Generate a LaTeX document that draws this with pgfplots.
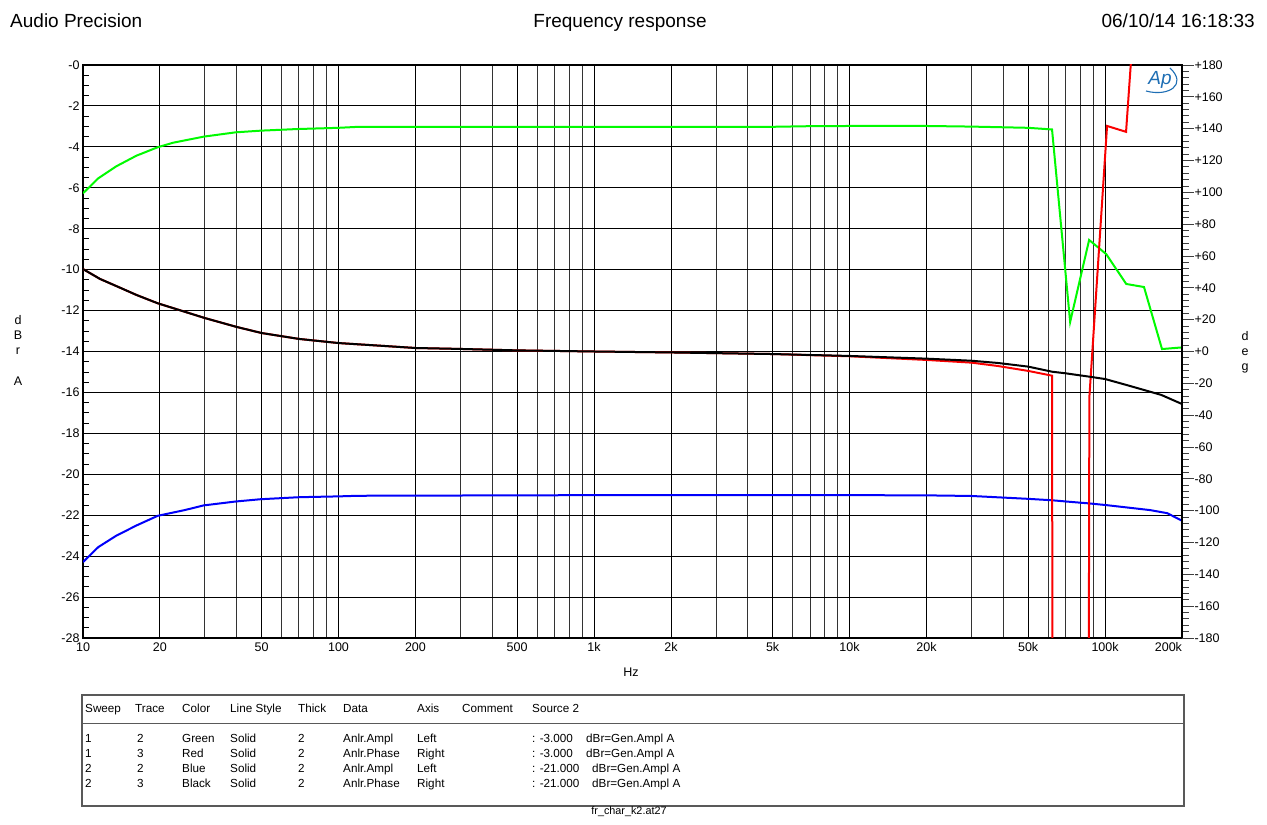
\documentclass[border=0pt]{standalone}
\usepackage{fontspec}
\setmainfont{Liberation Sans}
\usepackage{pgfplots}
\pgfplotsset{compat=1.18}
\definecolor{apgreen}{RGB}{0,250,0}
\definecolor{apred}{RGB}{250,0,0}
\definecolor{apblue}{RGB}{0,0,250}
\definecolor{aplogo}{RGB}{30,110,180}
\newcommand{\fTitle}{\fontsize{19}{22}\selectfont}
\newcommand{\fTick}{\fontsize{12.5}{14}\selectfont}
\newcommand{\fTab}{\fontsize{11.7}{13}\selectfont}
\newcommand{\fFoot}{\fontsize{10.8}{12}\selectfont}

\pgfplotstableread{
f dB
10 -6.27
11.47 -5.54
13.5 -4.95
16.2 -4.43
19.6 -4.02
22.5 -3.80
29.7 -3.50
39.6 -3.29
49.4 -3.21
68.8 -3.13
100 -3.07
120 -3.02
200 -3.02
500 -3.02
1000 -3.02
2000 -3.02
5000 -3.02
7000 -2.99
10000 -2.98
20000 -2.98
30000 -3.01
50000 -3.07
62000 -3.15
73000 -12.56
86600 -8.55
101000 -9.24
121000 -10.70
142000 -10.85
167000 -13.88
200000 -13.80
}\greentab

\pgfplotstableread{
f dB
10 -24.29
11.47 -23.56
13.5 -23.0
16.2 -22.50
19.6 -22.03
25 -21.75
29.7 -21.52
39.6 -21.33
49.4 -21.22
70 -21.12
100 -21.08
120 -21.05
1000 -21.02
5000 -21.02
10000 -21.02
20000 -21.03
30000 -21.06
50000 -21.20
62000 -21.27
72000 -21.34
86000 -21.42
100000 -21.50
150000 -21.75
175000 -21.90
200000 -22.27
}\bluetab

\pgfplotstableread{
f deg
10 51.8
11.65 45.6
14 40.0
16.2 35.5
19.6 30.3
30 21.0
40 15.4
50 11.6
70 7.9
100 5.3
150 3.5
200 2.2
300 1.6
500 0.7
1000 0.0
2000 -0.6
5000 -1.6
10000 -3.0
20000 -5.3
30000 -7.0
38000 -9.1
50000 -12.2
62000 -15.2
62500 -400
85800 -400
86800 -28.6
101800 141.7
120800 138.0
126000 180.0
135000 260.0
}\redtab

\pgfplotstableread{
f deg
10 51.8
11.65 45.6
14 40.0
16.2 35.5
19.6 30.3
30 21.0
40 15.4
50 11.6
70 7.9
100 5.3
150 3.5
200 2.2
300 1.6
500 0.7
1000 0.0
2000 -0.6
5000 -1.6
10000 -2.8
20000 -4.5
30000 -5.8
38000 -7.2
50000 -9.5
62000 -12.7
70000 -13.7
86600 -15.8
100000 -17.3
121000 -21.0
166000 -27.3
200000 -33.0
}\blacktab

\begin{document}
\begin{tikzpicture}[x=1pt,y=1pt]
\useasboundingbox (0,0) rectangle (1267,825);

% titles
\node[anchor=base west, inner sep=0pt, font=\fTitle] at (10,797.7) {Audio Precision};
\node[anchor=base, inner sep=0pt, font=\fTitle] at (620,797.7) {Frequency response};
\node[anchor=base east, inner sep=0pt, font=\fTitle] at (1255,797.7) {06/10/14 16:18:33};

\begin{axis}[
  at={(83pt,187pt)}, anchor=south west,
  scale only axis, width=1099pt, height=573pt,
  xmode=log, log basis x=10,
  xmin=10, xmax=200000, ymin=-28, ymax=0,
  xtick={10,20,50,100,200,500,1000,2000,5000,10000,20000,50000,100000,200000},
  xticklabels={10,20,50,100,200,500,1k,2k,5k,10k,20k,50k,100k,\makebox[0pt][r]{200k}},
  minor xtick={30,40,60,70,80,90,300,400,600,700,800,900,3000,4000,6000,7000,8000,9000,30000,40000,60000,70000,80000,90000},
  xmajorgrids, xminorgrids, ymajorgrids,
  major grid style={black, line width=0.9pt},
  minor grid style={black!80, line width=0.9pt},
  ytick={-28,-26,...,0},
  yticklabels={-28,-26,-24,-22,-20,-18,-16,-14,-12,-10,-8,-6,-4,-2,-0},
  minor y tick num=3,
  ytick pos=left,
  tick align=inside,
  major tick length=6pt, minor tick length=6pt,
  tick style={black, line width=0.9pt},
  xtick style={draw=none},
  minor x tick style={draw=none},
  axis line style={black, line width=1.3pt},
  tick label style={font=\fTick},
  xticklabel style={yshift=-1pt},
  /pgf/number format/assume math mode=true,
]
\addplot[apgreen, line width=2pt] table[x=f, y=dB] {\greentab};
\addplot[apblue, line width=2pt] table[x=f, y=dB] {\bluetab};
\end{axis}

\begin{axis}[
  at={(83pt,187pt)}, anchor=south west,
  scale only axis, width=1099pt, height=573pt,
  xmode=log, log basis x=10,
  xmin=10, xmax=200000, ymin=-180, ymax=180,
  axis x line=none, axis y line*=right,
  ytick={-180,-160,...,180},
  yticklabels={-180,-160,-140,-120,-100,-80,-60,-40,-20,+0,+20,+40,+60,+80,+100,+120,+140,+160,+180},
  minor y tick num=4,
  tick align=outside,
  major tick length=12pt, minor tick length=7pt,
  tick style={black!75, line width=0.9pt},
  axis line style={black, line width=1.3pt},
  tick label style={font=\fTick},
  yticklabel style={xshift=-3pt},
  /pgf/number format/assume math mode=true,
]
\addplot[apred, line width=2pt] table[x=f, y=deg] {\redtab};
\addplot[black, line width=2pt] table[x=f, y=deg] {\blacktab};
\end{axis}

% axis labels
\node[anchor=base, inner sep=0pt, font=\fTick] at (631,148.5) {Hz};
\node[anchor=base, inner sep=0pt, font=\fTick] at (18,500.5) {d};
\node[anchor=base, inner sep=0pt, font=\fTick] at (18,485) {B};
\node[anchor=base, inner sep=0pt, font=\fTick] at (18,470) {r};
\node[anchor=base, inner sep=0pt, font=\fTick] at (18,439) {A};
\node[anchor=base, inner sep=0pt, font=\fTick] at (1245,484) {d};
\node[anchor=base, inner sep=0pt, font=\fTick] at (1245,469) {e};
\node[anchor=base, inner sep=0pt, font=\fTick] at (1245,454) {g};

% Ap logo
\node[anchor=center, inner sep=0pt, text=aplogo, font=\fontsize{19}{20}\selectfont\itshape] at (1160,745) {Ap};
\draw[aplogo, line width=1.1pt] (1146,734) .. controls (1168,728) and (1188,740) .. (1170,757);

% table
\draw[black!65, line width=1.3pt] (82,130) rectangle (1184,19);
\draw[black!65, line width=1.3pt] (82,101.7) -- (1184,101.7);
\begin{scope}[every node/.style={anchor=base west, inner sep=0pt, font=\fTab}]
\node at (85,112) {Sweep};
\node at (135,112) {Trace};
\node at (182,112) {Color};
\node at (230,112) {Line Style};
\node at (298,112) {Thick};
\node at (343,112) {Data};
\node at (417,112) {Axis};
\node at (462,112) {Comment};
\node at (532,112) {Source 2};
% rows
\node at (85,82) {1}; \node at (137,82) {2}; \node at (182,82) {Green}; \node at (230,82) {Solid}; \node at (298,82) {2}; \node at (343,82) {Anlr.Ampl}; \node at (417,82) {Left}; \node at (532,82) {: -3.000}; \node at (586,82) {dBr=Gen.Ampl A};
\node at (85,67) {1}; \node at (137,67) {3}; \node at (182,67) {Red}; \node at (230,67) {Solid}; \node at (298,67) {2}; \node at (343,67) {Anlr.Phase}; \node at (417,67) {Right}; \node at (532,67) {: -3.000}; \node at (586,67) {dBr=Gen.Ampl A};
\node at (85,52) {2}; \node at (137,52) {2}; \node at (182,52) {Blue}; \node at (230,52) {Solid}; \node at (298,52) {2}; \node at (343,52) {Anlr.Ampl}; \node at (417,52) {Left}; \node at (532,52) {: -21.000}; \node at (592,52) {dBr=Gen.Ampl A};
\node at (85,37) {2}; \node at (137,37) {3}; \node at (182,37) {Black}; \node at (230,37) {Solid}; \node at (298,37) {2}; \node at (343,37) {Anlr.Phase}; \node at (417,37) {Right}; \node at (532,37) {: -21.000}; \node at (592,37) {dBr=Gen.Ampl A};
\end{scope}
\node[anchor=base, inner sep=0pt, font=\fFoot] at (629,10) {fr\_char\_k2.at27};
\end{tikzpicture}
\end{document}
